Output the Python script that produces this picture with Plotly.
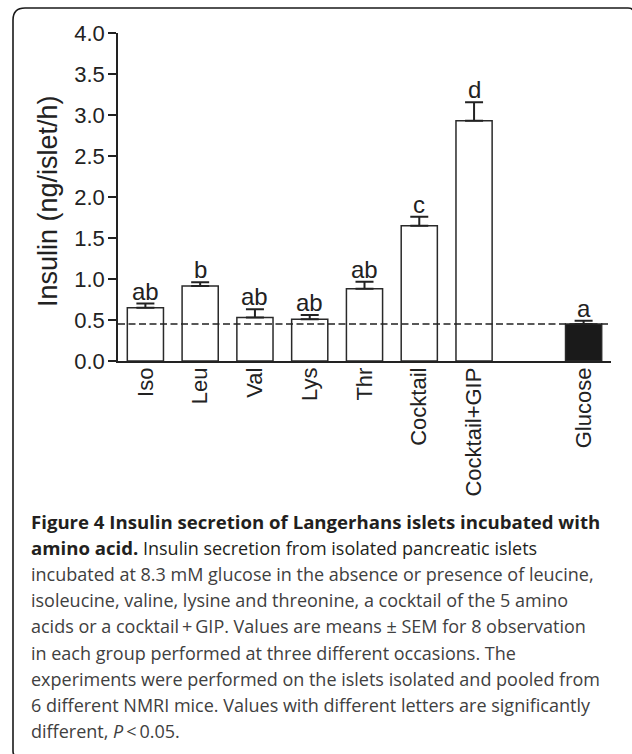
import plotly.graph_objects as go

# Insulin secretion per group (ng/islet/h), mean and SEM
groups = ["Iso", "Leu", "Val", "Lys", "Thr", "Cocktail", "Cocktail+GIP", "Glucose"]
means = [0.65, 0.915, 0.53, 0.51, 0.88, 1.65, 2.93, 0.45]
sems = [0.05, 0.045, 0.10, 0.05, 0.085, 0.11, 0.225, 0.04]
letters = ["ab", "b", "ab", "ab", "ab", "c", "d", "a"]
fills = ["white"] * 7 + ["#1a1a1a"]
baseline_level = 0.45  # glucose-only reference level
spacer = " "
category_order = groups[:7] + [spacer] + groups[7:]
y_ticks = [0.0, 0.5, 1.0, 1.5, 2.0, 2.5, 3.0, 3.5, 4.0]

BOLD = '<b><span style="font-size:18.6px">{}</span></b>'
caption_lines = [
    BOLD.format("Figure 4 Insulin secretion of Langerhans islets incubated with"),
    BOLD.format("amino acid.") + " Insulin secretion from isolated pancreatic islets",
    "incubated at 8.3 mM glucose in the absence or presence of leucine,",
    "isoleucine, valine, lysine and threonine, a cocktail of the 5 amino",
    "acids or a cocktail\u2009+\u2009GIP. Values are means \u00b1 SEM for 8 observation",
    "in each group performed at three different occasions. The",
    "experiments were performed on the islets isolated and pooled from",
    "6 different NMRI mice. Values with different letters are significantly",
    "different, <i>P</i>\u2009<\u20090.05.",
]

W, H = 632, 754
ML, MR, MT, MB = 118, 21, 33, 393
PW, PH = W - ML - MR, H - MT - MB


def px_x(px):
    return (px - ML) / PW


def px_y(py):
    return (H - MB - py) / PH


ink = "#222222"
chart_font = "Liberation Sans, Arial, Helvetica, sans-serif"

fig = go.Figure()
fig.add_trace(go.Bar(
    x=groups,
    y=means,
    width=0.66,
    marker=dict(color=fills, line=dict(color="#2a2a2a", width=1.5)),
    error_y=dict(type="data", array=sems, arrayminus=[0] * len(sems),
                 symmetric=False, color=ink, thickness=2, width=9),
    showlegend=False,
    hoverinfo="skip",
))

# dashed glucose reference line across the plot
fig.add_shape(type="line", xref="paper", yref="y", x0=0, x1=1,
              y0=baseline_level, y1=baseline_level, layer="above",
              line=dict(color=ink, width=1.5, dash="7px,3.5px"))

# significance letters above each error bar
for g, m, s, lab in zip(groups, means, sems, letters):
    fig.add_annotation(x=g, y=m + s, text=lab, showarrow=False,
                       xanchor="center", yanchor="bottom", yshift=-3,
                       font=dict(family=chart_font, size=24, color=ink))

# y axis title
fig.add_annotation(xref="paper", yref="paper", x=px_x(48), y=px_y(201),
                   text="Insulin (ng/islet/h)", textangle=-90, showarrow=False,
                   xanchor="center", yanchor="middle",
                   font=dict(family=chart_font, size=27, color=ink))

# caption below the chart
cap_font = "Open Sans, Noto Sans, sans-serif"
for i, line in enumerate(caption_lines):
    base = 527 + 26.3 * i
    fig.add_annotation(xref="paper", yref="paper", x=px_x(29), y=px_y(base - 6),
                       text=line, showarrow=False, xanchor="left", yanchor="middle",
                       align="left",
                       font=dict(family=cap_font, size=18,
                                 color="#231f20" if i < 2 else "#404040"))

# rounded frame around the figure (right and bottom edges run off the page)
x0, y0, r = px_x(13), px_y(8), 12
xr, yb = px_x(634), px_y(757)
path = (f"M {px_x(19)},{yb} Q {x0},{yb} {x0},{px_y(751)} "
        f"L {x0},{px_y(8 + r)} "
        f"Q {x0},{y0} {px_x(13 + r)},{y0} "
        f"L {px_x(628)},{y0} Q {xr},{y0} {xr},{px_y(14)}")
fig.add_shape(type="path", xref="paper", yref="paper", path=path,
              line=dict(color="#1a1a1a", width=1.6), layer="above")

fig.update_layout(
    width=W, height=H,
    margin=dict(l=ML, r=MR, t=MT, b=MB, autoexpand=False),
    paper_bgcolor="white", plot_bgcolor="white",
    font=dict(family=chart_font, size=22, color=ink),
    bargap=0.34,
    xaxis=dict(type="category", categoryorder="array", categoryarray=category_order,
               range=[-0.5, len(category_order) - 0.5],
               tickangle=-90, showline=True, linecolor=ink, linewidth=1.6,
               ticks="", showgrid=False, zeroline=False, ticklabelstandoff=-4,
               tickfont=dict(family=chart_font, size=22, color=ink)),
    yaxis=dict(range=[0, 4.0], tickvals=y_ticks,
               ticktext=[f"{v:.1f}" for v in y_ticks],
               showline=True, linecolor=ink, linewidth=1.6,
               ticks="outside", ticklen=8, tickwidth=1.6, tickcolor=ink,
               showgrid=False, zeroline=False, ticklabelstandoff=-1,
               tickfont=dict(family=chart_font, size=22, color=ink)),
)

fig.write_html("out.html")
